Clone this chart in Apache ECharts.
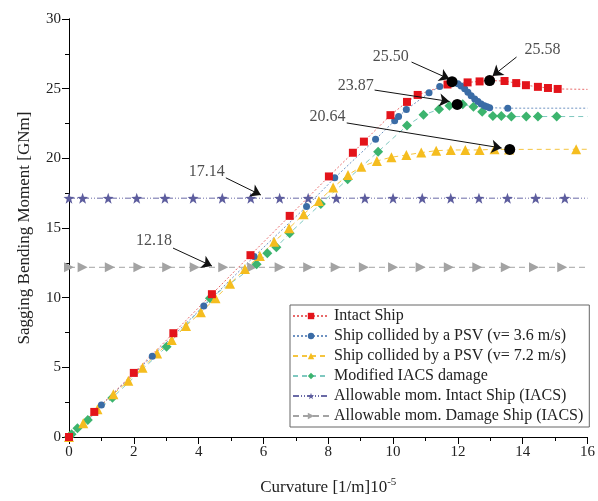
<!DOCTYPE html>
<html>
<head>
<meta charset="utf-8">
<script src="https://cdn.jsdelivr.net/npm/echarts@6/dist/echarts.min.js"></script>
<style>
  html, body { margin: 0; padding: 0; background: #fff; }
  #chart { width: 598px; height: 501px; }
</style>
</head>
<body>
<div id="chart"></div>
<script>
// curvature [1/m]1e-5 , moment [GNm]
var intactShip = [[0,0],[0.78,1.8],[2.0,4.6],[3.22,7.45],[4.41,10.25],[5.6,13.05],[6.81,15.87],[8.02,18.7],[8.76,20.4],[9.1,21.2],[9.92,23.1],[10.43,24.05],[10.76,24.55],[11.68,25.3],[12.3,25.45],[12.67,25.52],[12.98,25.58],[13.44,25.55],[13.8,25.4],[14.1,25.25],[14.47,25.13],[14.78,25.05],[15.08,24.98]];
var psv36 = [[0,0],[1.0,2.3],[2.57,5.8],[4.16,9.4],[5.71,12.95],[7.33,16.55],[8.2,18.6],[9.46,21.37],[10.05,22.7],[10.17,23.0],[10.41,23.5],[11.11,24.7],[11.44,25.15],[11.75,25.45],[11.82,25.5],[12.0,25.35],[12.1,25.2],[12.21,25.0],[12.31,24.75],[12.41,24.5],[12.52,24.25],[12.62,24.07],[12.72,23.9],[12.82,23.78],[12.9,23.7],[12.98,23.63],[13.54,23.6]];
var psv72 = [[0,0],[0.44,0.98],[0.88,2.0],[1.37,3.06],[1.83,4.04],[2.27,4.97],[2.72,6.0],[3.17,6.96],[3.61,7.97],[4.07,8.95],[4.52,9.95],[4.97,11.0],[5.43,12.06],[5.89,12.99],[6.33,14.02],[6.79,14.98],[7.24,15.99],[7.71,16.94],[8.15,17.9],[8.61,18.81],[9.02,19.4],[9.5,19.81],[9.95,20.08],[10.41,20.24],[10.87,20.41],[11.33,20.55],[11.78,20.6],[12.23,20.6],[12.67,20.6],[13.13,20.65],[13.58,20.64],[15.65,20.65]];
var iacsDamage = [[0,0],[0.08,0.19],[0.26,0.62],[0.58,1.22],[1.34,2.82],[3.01,6.48],[4.35,9.95],[5.79,12.4],[6.12,13.19],[6.4,13.62],[6.81,14.62],[7.77,16.73],[8.6,18.5],[9.54,20.48],[10.43,22.35],[10.94,23.12],[11.42,23.52],[11.74,23.78],[12.15,23.88],[12.48,23.71],[12.75,23.35],[13.08,23.04],[13.34,23.04],[13.65,23.0],[14.11,23.0],[14.47,23.0],[15.05,23.0]];

var allowIntact = 17.14;
var allowDamage = 12.18;
var allowIntactX = [0,0.42,1.21,2.09,2.96,3.83,4.73,5.61,6.5,7.38,8.25,9.13,10.0,10.9,11.78,12.65,13.53,14.4,15.3];
var allowDamageX = [0,0.42,1.26,2.14,3.03,3.88,4.76,5.65,6.5,7.38,8.23,9.1,10.0,10.85,11.72,12.6,13.48,14.35,15.22];

// tail of each curve (line goes on to the frame, no marker)
var tailY = { intact: 24.95, psv36: 23.6, psv72: 20.65, iacs: 23.0 };

// highlighted peaks
var peaks = [[11.82,25.5],[12.98,25.58],[11.98,23.87],[13.6,20.64]];

// annotation labels: text, label pos, arrow start, arrow end
var noteText = ['25.50','25.58','23.87','20.64','17.14','12.18'];
var notePos = [[9.93,27.27],[14.61,27.78],[8.85,25.19],[7.98,22.97],[4.25,19.02],[2.62,14.07]];
var arrowFrom = [[10.57,26.91],[13.81,27.27],[9.43,24.9],[8.57,22.54],[4.84,18.6],[3.21,13.56]];
var arrowTo = [[11.74,25.69],[13.07,25.91],[11.74,24.08],[13.35,20.74],[5.92,17.37],[4.41,12.27]];

var serif = 'Liberation Serif';

function withTail(arr, y) {
  var d = arr.map(function (p) { return p; });
  d.push({ value: [16, y], symbol: 'none' });
  return d;
}
function flat(xs, y) {
  var d = xs.map(function (x) { return [x, y]; });
  d.push({ value: [16, y], symbol: 'none' });
  return d;
}
function lineSeries(name, data, color, lineColor, dash, symbol, size, rot) {
  return {
    name: name, type: 'line', data: data,
    symbol: symbol, symbolSize: size, symbolRotate: rot || 0,
    itemStyle: { color: color },
    lineStyle: { color: lineColor, width: 1, type: dash },
    animation: false
  };
}

var chart = echarts.init(document.getElementById('chart'));

var arrows = [];
for (var i = 0; i < arrowFrom.length; i++) {
  arrows.push([{ coord: arrowFrom[i] }, { coord: arrowTo[i] }]);
}
var notes = noteText.map(function (t, i) { return { name: t, value: notePos[i] }; });

var option = {
  backgroundColor: '#fff',
  textStyle: { fontFamily: serif },
  grid: { left: 69, right: 10, top: 19, bottom: 64 },
  xAxis: [{
    type: 'value', min: 0, max: 16, interval: 2,
    name: 'Curvature [1/m]10{sup|-5}', nameLocation: 'middle', nameGap: 40,
    nameTextStyle: { fontFamily: serif, fontSize: 17, color: '#222',
      rich: { sup: { fontFamily: serif, fontSize: 11, color: '#222', verticalAlign: 'top', padding: [0, 0, 10, 0] } } },
    axisLine: { lineStyle: { color: '#000', width: 1 } },
    axisTick: { inside: false, length: 7, lineStyle: { color: '#000' } },
    minorTick: { show: true, splitNumber: 2, length: 4, lineStyle: { color: '#000' } },
    axisLabel: { fontFamily: serif, fontSize: 15, color: '#222', margin: 8 },
    splitLine: { show: false }
  }, {
    type: 'value', min: 0, max: 16, interval: 2, position: 'top',
    axisLine: { show: true, lineStyle: { color: '#000', width: 1 } },
    axisTick: { inside: true, length: 6, lineStyle: { color: '#000' } },
    minorTick: { show: true, splitNumber: 2, length: 4, lineStyle: { color: '#000' } },
    axisLabel: { show: false }, splitLine: { show: false }
  }],
  yAxis: [{
    type: 'value', min: 0, max: 30, interval: 5,
    name: 'Sagging Bending Moment [GNm]', nameLocation: 'middle', nameGap: 36,
    nameTextStyle: { fontFamily: serif, fontSize: 17, color: '#222' },
    axisLine: { show: true, lineStyle: { color: '#000', width: 1 } },
    axisTick: { inside: false, length: 7, lineStyle: { color: '#000' } },
    minorTick: { show: true, splitNumber: 2, length: 4, lineStyle: { color: '#000' } },
    axisLabel: { fontFamily: serif, fontSize: 15, color: '#222', margin: 8 },
    splitLine: { show: false }
  }, {
    type: 'value', min: 0, max: 30, interval: 5, position: 'right',
    axisLine: { show: true, lineStyle: { color: '#000', width: 1 } },
    axisTick: { inside: true, length: 6, lineStyle: { color: '#000' } },
    minorTick: { show: true, splitNumber: 2, length: 4, lineStyle: { color: '#000' } },
    axisLabel: { show: false }, splitLine: { show: false }
  }],
  legend: {
    orient: 'vertical', left: 290, top: 305,
    itemWidth: 36, itemHeight: 8, itemGap: 4,
    padding: [3, 6, 3, 2],
    borderColor: '#666', borderWidth: 1, backgroundColor: '#fff',
    textStyle: { fontFamily: serif, fontSize: 16, color: '#222' },
    data: ['Intact Ship', 'Ship collided by a PSV (v= 3.6 m/s)', 'Ship collided by a PSV (v= 7.2 m/s)',
      'Modified IACS damage', 'Allowable mom. Intact Ship (IACS)', 'Allowable mom. Damage Ship (IACS)']
  },
  series: [
    lineSeries('Allowable mom. Intact Ship (IACS)', flat(allowIntactX, allowIntact), '#5d5d9e', '#6a6aa6', [6, 2, 1, 2, 1, 2], 'path://M0,-10L2.35,-3.24L9.51,-3.09L3.8,1.24L5.88,8.09L0,4L-5.88,8.09L-3.8,1.24L-9.51,-3.09L-2.35,-3.24Z', 11),
    lineSeries('Allowable mom. Damage Ship (IACS)', flat(allowDamageX, allowDamage), '#a3a3a3', '#a3a3a3', [6, 4], 'triangle', 10, -90),
    lineSeries('Modified IACS damage', withTail(iacsDamage, tailY.iacs), '#3cb46e', '#7fc8c0', [5, 4], 'diamond', 10),
    lineSeries('Ship collided by a PSV (v= 7.2 m/s)', withTail(psv72, tailY.psv72), '#f5bd1f', '#f5c540', [5, 4], 'triangle', 10),
    lineSeries('Ship collided by a PSV (v= 3.6 m/s)', withTail(psv36, tailY.psv36), '#3a6ca6', '#6f93c2', [2, 2], 'circle', 7),
    lineSeries('Intact Ship', withTail(intactShip, tailY.intact), '#e3141b', '#e86a6a', [2, 2], 'rect', 8),
    {
      name: 'peaks', type: 'scatter', data: peaks, symbol: 'circle', symbolSize: 11,
      itemStyle: { color: '#000', opacity: 1 }, z: 5, animation: false,
      markLine: {
        silent: true, animation: false, symbol: ['none', 'arrow'], symbolSize: 10,
        lineStyle: { color: '#111', width: 1, type: 'solid' },
        itemStyle: { color: '#111' },
        label: { show: false },
        data: arrows
      }
    },
    {
      name: 'notes', type: 'scatter', data: notes, symbolSize: 0, animation: false, z: 6,
      label: { show: true, position: 'inside', formatter: '{b}', fontFamily: serif, fontSize: 16, color: '#222' }
    }
  ]
};
chart.setOption(option);
</script>
</body>
</html>
